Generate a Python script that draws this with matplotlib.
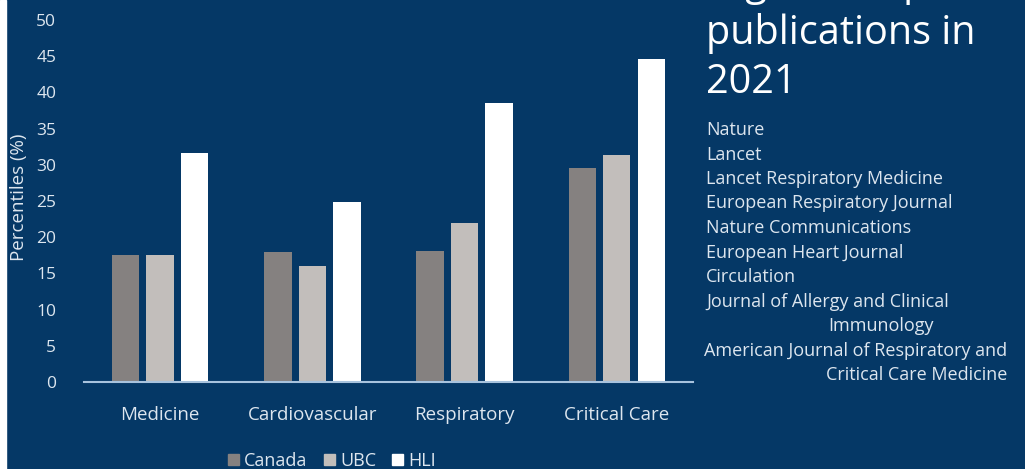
import numpy as np
import matplotlib.pyplot as plt
from matplotlib.patches import Rectangle, Patch

categories = ['Medicine', 'Cardiovascular', 'Respiratory', 'Critical Care']
canada = [17.6, 17.9, 18.1, 29.6]
ubc = [17.6, 16.0, 22.0, 31.4]
hli = [31.6, 24.9, 38.5, 44.6]
series = ['Canada', 'UBC', 'HLI']
colors = ['#858180', '#c2bebb', '#ffffff']
journals = ['Nature', 'Lancet', 'Lancet Respiratory Medicine',
            'European Respiratory Journal', 'Nature Communications',
            'European Heart Journal', 'Circulation',
            'Journal of Allergy and Clinical', 'Immunology',
            'American Journal of Respiratory and', 'Critical Care Medicine']
title = 'Highest impact\npublications in\n2021'

bg = '#053866'
txt = '#dde6ef'
plt.rcParams['font.family'] = ['Open Sans', 'DejaVu Sans']

fig = plt.figure(figsize=(10.25, 4.69), dpi=100, facecolor=bg)
# thin white strip on the left edge
fig.patches.append(Rectangle((0, 0), 6 / 1025, 1, transform=fig.transFigure,
                             color='white', zorder=0))
ax = fig.add_axes([0.082, 0.1855, 0.594, 0.772])
ax.set_facecolor(bg)

x = np.arange(len(categories))
w = 0.18
step = 0.227
for i, (vals, c) in enumerate(zip([canada, ubc, hli], colors)):
    ax.bar(x + (i - 1) * step, vals, w, color=c, label=series[i], zorder=2)

ax.set_xlim(-0.5, 3.5)
ax.set_ylim(0, 50)
ax.set_yticks(np.arange(0, 51, 5))
ax.set_xticks(x)
ax.set_xticklabels(categories, fontsize=13.5, color=txt)
ax.tick_params(axis='y', labelsize=12.5, labelcolor=txt, length=0, pad=20)
ax.tick_params(axis='x', length=0, pad=17)
for s in ['top', 'right', 'left']:
    ax.spines[s].set_visible(False)
ax.spines['bottom'].set_color('#a8c3de')
ax.spines['bottom'].set_linewidth(1.5)

fig.text(19 / 1025, 1 - 197 / 469, 'Percentiles (%)', rotation=90,
         fontsize=13.5, color=txt, ha='center', va='center')

handles = [Patch(color=c) for c in colors]
fig.legend(handles, series, loc='center', bbox_to_anchor=(332 / 1025, 8 / 469),
           ncol=3, frameon=False, fontsize=13, labelcolor=txt,
           handlelength=0.6, handleheight=0.6, handletextpad=0.3,
           columnspacing=0.9)

fig.text(706 / 1025, 1 - 93 / 469, title, fontsize=28.5, color='white',
         ha='left', va='baseline', linespacing=1.27)

ypos = 130
for j in journals:
    xp = 706
    if j == 'Immunology':
        xp = 828
    elif j == 'Critical Care Medicine':
        xp = 826
    elif j.startswith('American'):
        xp = 704
    fig.text(xp / 1025, 1 - ypos / 469, j, fontsize=13, color=txt,
             ha='left', va='center')
    ypos += 24.5

fig.savefig('out.png', dpi=100, facecolor=bg)
